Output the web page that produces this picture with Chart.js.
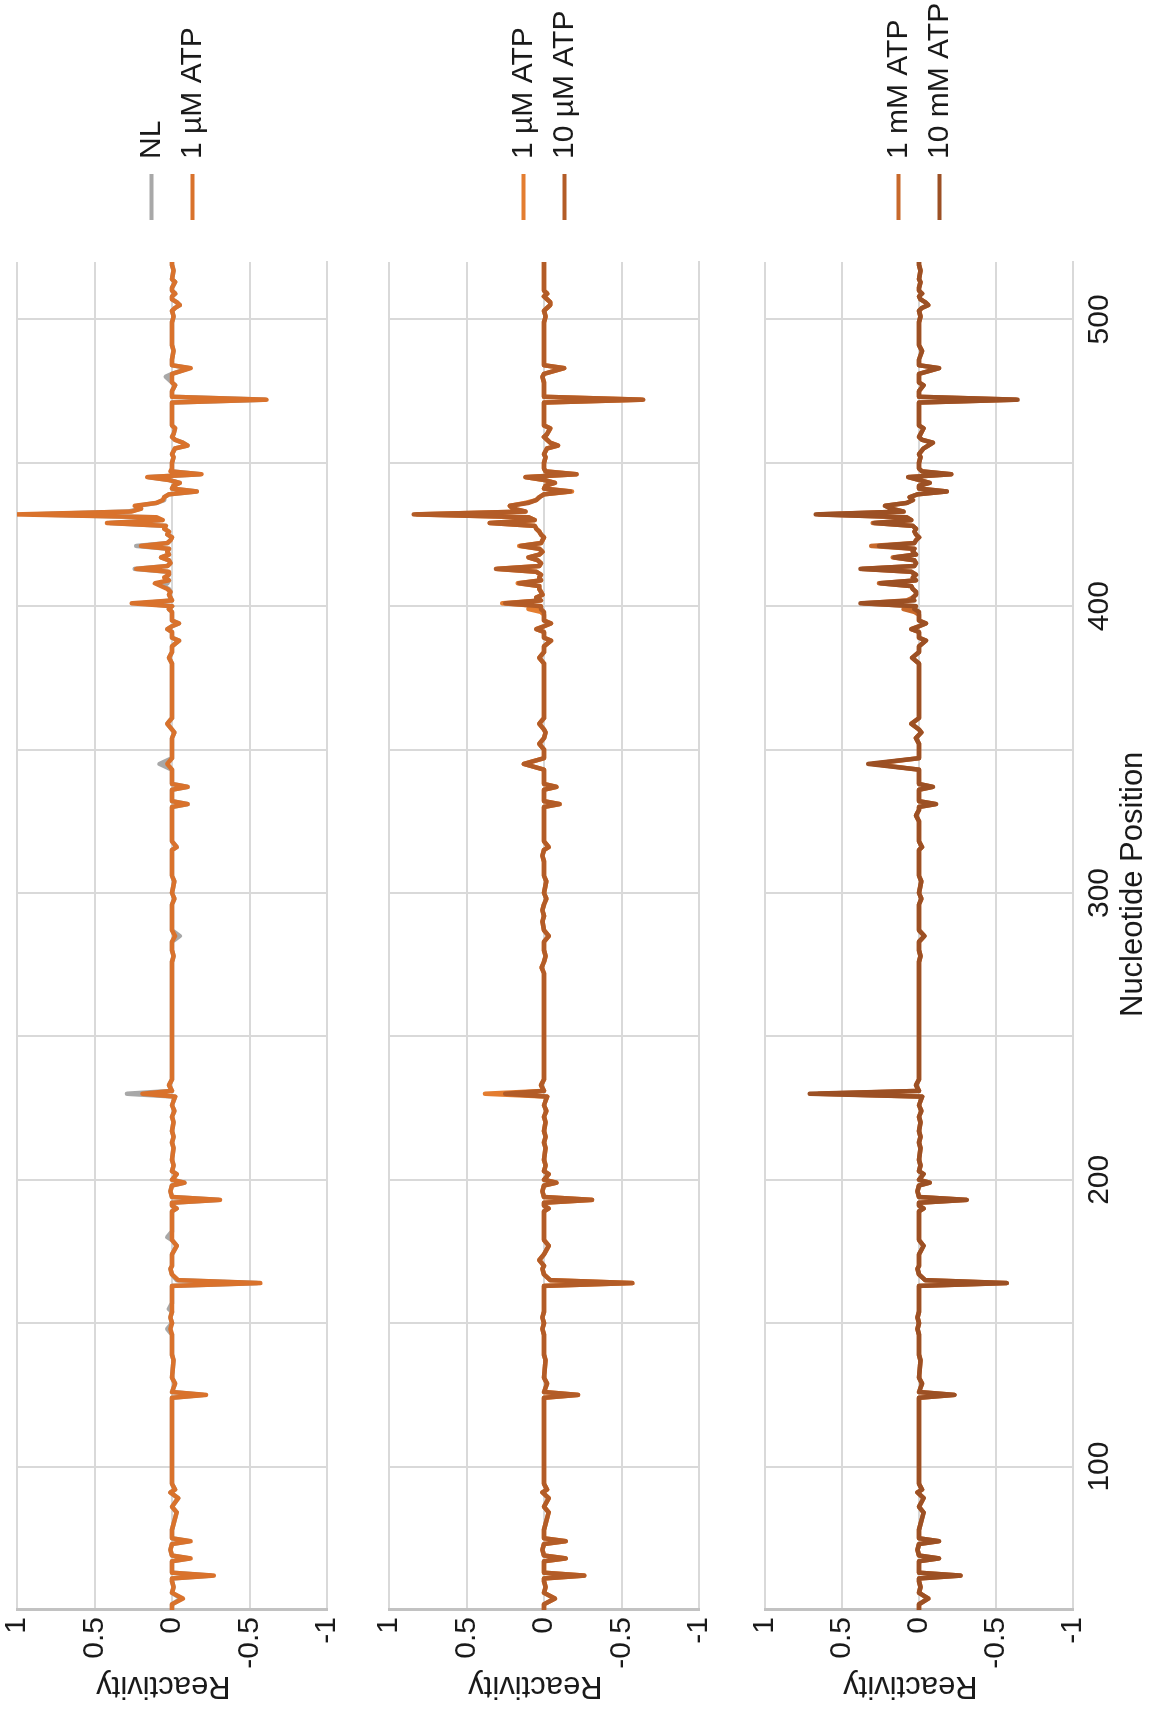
<!DOCTYPE html>
<html>
<head>
<meta charset="utf-8">
<title>Reactivity profiles</title>
<script src="https://cdn.jsdelivr.net/npm/chart.js@4.4.1/dist/chart.umd.min.js"></script>
<style>
  html, body { margin: 0; padding: 0; background: #fff; overflow: hidden; }
  /* the figure is laid out landscape, then turned a quarter to the left */
  #stage {
    position: absolute; left: 0; top: 0;
    width: 1711px; height: 1153px;
    transform-origin: 0 0;
    transform: translateY(1711px) rotate(-90deg);
  }
  #stage canvas { position: absolute; left: 0; }
</style>
</head>
<body>
<div id="stage">
  <canvas id="panel1" width="1711" height="358" style="top:0px"></canvas>
  <canvas id="panel2" width="1711" height="377" style="top:358px"></canvas>
  <canvas id="panel3" width="1711" height="418" style="top:735px"></canvas>
</div>
<script>
// nucleotide positions (shared by every trace)
const positions = [
  50, 52, 54, 56, 58, 60, 61, 62, 63, 66,
  67, 68, 69, 71, 73, 74, 75, 78, 84, 86,
  89, 91, 92, 94, 120, 122, 124, 125, 126, 129,
  131, 137, 139, 146, 148, 150, 152, 154, 155, 157,
  163, 164, 165, 167, 169, 170, 172, 174, 177, 179,
  180, 182, 189, 190, 191, 192, 193, 194, 196, 198,
  199, 200, 202, 203, 205, 207, 211, 213, 215, 217,
  220, 222, 224, 226, 229, 230, 231, 233, 235, 240,
  272, 274, 276, 278, 280, 283, 285, 287, 290, 292,
  294, 296, 298, 300, 304, 306, 311, 313, 315, 316,
  318, 325, 327, 329, 330, 331, 332, 336, 337, 338,
  343, 345, 347, 350, 352, 354, 356, 357, 359, 361,
  380, 382, 384, 386, 388, 389, 391, 392, 393, 394,
  395, 397, 398, 399, 400, 401, 402, 403, 404, 405,
  406, 407, 408, 409, 410, 411, 412, 413, 414, 415,
  416, 417, 418, 419, 420, 421, 422, 423, 424, 425,
  426, 427, 428, 429, 430, 431, 432, 433, 434, 435,
  436, 437, 438, 439, 440, 441, 442, 443, 444, 445,
  446, 447, 448, 449, 450, 452, 453, 455, 456, 457,
  458, 459, 460, 462, 463, 465, 471, 472, 473, 475,
  477, 478, 480, 481, 483, 484, 486, 489, 491, 499,
  501, 503, 504, 505, 506, 507, 508, 509, 510, 511,
  513, 514, 517, 519, 520
];

const reactNL = [
  0, 0, -0.06, 0, -0.01, 0, 0, -0.25, 0, 0,
  0, -0.11, 0, 0.01, 0, -0.11, 0, 0, -0.03, 0,
  -0.04, 0.01, -0.02, 0, 0, 0, 0, -0.2, 0, -0.02,
  0, -0.01, 0, 0, 0.03, 0, 0.01, 0, 0.02, 0,
  0, -0.55, -0.03, 0, 0.01, 0, 0, 0, -0.03, 0,
  0.03, 0, 0, -0.03, 0, 0, -0.3, 0, 0.01, 0,
  -0.08, 0, -0.03, 0, -0.01, 0, -0.01, 0, -0.01, 0,
  -0.01, 0, -0.015, 0, -0.02, 0.29, 0, 0.02, 0, 0,
  0, 0, 0, -0.01, 0, 0, -0.05, 0, 0, 0,
  0, 0, -0.015, 0, -0.015, 0, 0, 0, 0, -0.03,
  0, 0, 0, 0, 0, -0.1, 0, 0, -0.1, 0,
  0, 0.08, 0, 0, 0, 0, -0.015, 0, 0.03, 0,
  0, 0.02, 0, 0, -0.045, 0, 0, 0.03, 0, -0.045,
  0, 0, 0, 0.02, 0, 0.2, 0, 0.01, 0.02, 0.01,
  0.02, 0.06, 0.03, 0.02, 0.04, 0.02, 0.03, 0.24, 0.03, 0.01,
  0.02, 0.07, 0.02, 0.03, 0.02, 0.23, 0.03, 0.01, 0, 0.03,
  0.02, 0.05, 0.04, 0.4, 0.08, 0.12, 0.9, 0.28, 0.2, 0.22,
  0.1, 0.05, 0.05, 0.02, -0.16, 0, -0.01, -0.05, 0.02, 0.15,
  -0.18, 0, 0, 0, 0, -0.01, 0, -0.02, -0.1, -0.07,
  -0.02, 0, -0.01, -0.02, 0, 0, 0, -0.6, 0, 0,
  -0.02, 0, 0.04, 0, -0.11, 0, 0, -0.01, 0, 0,
  -0.01, 0, -0.02, -0.05, -0.03, 0, 0, -0.02, 0, 0,
  -0.02, 0, -0.01, 0, 0
];

const react1uM = [
  0, 0, -0.07, 0, -0.01, 0, 0, -0.27, 0, 0,
  0, -0.12, 0, 0.01, 0, -0.12, 0, 0, -0.03, 0,
  -0.04, 0.01, -0.02, 0, 0, 0, 0, -0.22, 0, -0.02,
  0, -0.01, 0, 0, 0.01, 0, 0.01, 0, 0, 0,
  0, -0.57, -0.04, 0, 0.01, 0, 0, 0, -0.03, 0,
  0, 0, 0, -0.03, 0, 0, -0.31, 0, 0.01, 0,
  -0.08, 0, -0.03, 0, -0.01, 0, -0.01, 0, -0.01, 0,
  -0.01, 0, -0.015, 0, -0.02, 0.19, 0, 0.02, 0, 0,
  0, 0, 0, -0.01, 0, 0, -0.02, 0, 0, 0,
  0, 0, -0.015, 0, -0.015, 0, 0, 0, 0, -0.03,
  0, 0, 0, 0, 0, -0.1, 0, 0, -0.1, 0,
  0, 0.03, 0, 0, 0, 0, -0.015, 0, 0.03, 0,
  0, 0.02, 0, 0, -0.045, 0, 0, 0.03, 0, -0.045,
  0, 0, 0, 0.02, 0, 0.26, 0, 0.01, 0.02, 0.01,
  0.03, 0.07, 0.11, 0.02, 0.05, 0.02, 0.02, 0.23, 0.03, 0.01,
  0.02, 0.07, 0.02, 0.03, 0.02, 0.2, 0.03, 0.01, 0, 0.03,
  0.02, 0.05, 0.04, 0.42, 0.06, 0.1, 1.0, 0.26, 0.2, 0.24,
  0.1, 0.06, 0.05, 0.02, -0.16, 0, -0.01, -0.05, 0.02, 0.16,
  -0.19, 0.01, 0, 0, 0, -0.01, 0, -0.02, -0.1, -0.07,
  -0.02, 0, -0.01, -0.02, 0, 0, 0, -0.61, 0, 0,
  -0.02, 0, 0, 0, -0.12, 0, 0, -0.01, 0, 0,
  -0.01, 0, -0.02, -0.05, -0.03, 0, 0, -0.02, 0, 0,
  -0.02, 0, -0.01, 0, 0
];

// second run of 1 µM, paired with 10 µM
const react1uMb = [
  0, 0, -0.07, 0, -0.01, 0, 0, -0.26, 0, 0,
  0, -0.14, 0, 0.01, 0, -0.14, 0, 0, -0.03, 0,
  -0.03, 0.01, -0.02, 0, 0, 0, 0, -0.22, 0, -0.02,
  0, -0.01, 0, 0, 0.01, 0, 0.01, 0, 0, 0,
  0, -0.57, -0.04, 0, 0.01, 0, 0.03, 0, -0.03, 0,
  0, 0, 0, -0.03, 0, 0, -0.31, 0, 0.01, 0,
  -0.08, 0, -0.03, 0, -0.01, 0, -0.01, 0, -0.01, 0,
  -0.01, 0, -0.015, 0, -0.02, 0.38, 0, 0.02, 0, 0,
  0, 0.015, 0, -0.01, 0, 0, -0.03, 0, 0.01, 0,
  0.01, 0, -0.015, 0, -0.015, 0, 0, 0.01, 0, -0.03,
  0, 0, 0, 0, 0, -0.1, 0, 0, -0.08, 0,
  0, 0.13, 0, 0, 0.03, 0, -0.01, 0, 0.03, 0,
  0, 0.03, 0, 0, -0.045, 0, 0, 0.05, 0, -0.045,
  0, 0, 0.02, 0.1, 0.02, 0.27, 0.02, 0.05, 0.01, 0.02,
  0.03, 0.03, 0.17, 0.02, 0.03, 0.02, 0.05, 0.3, 0.03, 0.02,
  0.04, 0.1, 0.03, 0.01, 0.03, 0.16, 0.02, 0.01, 0, 0.02,
  0.03, 0.05, 0.06, 0.35, 0.06, 0.1, 0.82, 0.12, 0.2, 0.22,
  0.12, 0.05, 0.03, 0, -0.18, 0, -0.01, -0.07, 0, 0.12,
  -0.21, -0.01, 0, 0, 0, -0.01, 0, -0.02, -0.09, -0.04,
  -0.02, 0, -0.02, -0.04, 0, 0, 0, -0.63, 0, 0,
  0, 0, 0.01, 0, -0.13, 0, 0, 0, 0, 0,
  -0.01, 0, -0.02, -0.04, -0.04, -0.02, 0, -0.02, 0, 0,
  0, 0, 0, 0, 0
];

const react10uM = [
  0, 0, -0.07, 0, -0.01, 0, 0, -0.26, 0, 0,
  0, -0.14, 0, 0.01, 0, -0.14, 0, 0, -0.03, 0,
  -0.03, 0.01, -0.02, 0, 0, 0, 0, -0.22, 0, -0.02,
  0, -0.01, 0, 0, 0.01, 0, 0.01, 0, 0, 0,
  0, -0.57, -0.04, 0, 0.01, 0, 0.03, 0, -0.03, 0,
  0, 0, 0, -0.03, 0, 0, -0.31, 0, 0.01, 0,
  -0.08, 0, -0.03, 0, -0.01, 0, -0.01, 0, -0.01, 0,
  -0.01, 0, -0.015, 0, -0.02, 0.25, 0, 0.02, 0, 0,
  0, 0.015, 0, -0.01, 0, 0, -0.03, 0, 0.01, 0,
  0.01, 0, -0.015, 0, -0.015, 0, 0, 0.01, 0, -0.03,
  0, 0, 0, 0, 0, -0.1, 0, 0, -0.08, 0,
  0, 0.13, 0, 0, 0.03, 0, -0.01, 0, 0.03, 0,
  0, 0.03, 0, 0, -0.045, 0, 0, 0.05, 0, -0.045,
  0, 0, 0, 0.02, 0.02, 0.25, 0.02, 0.05, 0.01, 0.02,
  0.03, 0.03, 0.16, 0.02, 0.03, 0.02, 0.05, 0.31, 0.03, 0.02,
  0.04, 0.1, 0.03, 0.01, 0.03, 0.15, 0.02, 0.01, 0, 0.02,
  0.03, 0.05, 0.06, 0.35, 0.06, 0.1, 0.84, 0.12, 0.2, 0.22,
  0.1, 0.05, 0.03, 0, -0.17, 0, -0.01, -0.07, 0, 0.12,
  -0.21, -0.01, 0, 0, 0, -0.01, 0, -0.02, -0.09, -0.04,
  -0.02, 0, -0.02, -0.04, 0, 0, 0, -0.64, 0, 0,
  0, 0, 0.01, 0, -0.13, 0, 0, 0, 0, 0,
  -0.01, 0, -0.02, -0.04, -0.04, -0.02, 0, -0.02, 0, 0,
  0, 0, 0, 0, 0
];

const react1mM = [
  0, 0, -0.06, 0, -0.01, 0, 0, -0.27, 0, 0,
  0, -0.13, 0, 0.01, 0, -0.13, 0, 0, -0.03, 0,
  -0.03, 0.01, -0.02, 0, 0, 0, 0, -0.23, 0, -0.02,
  0, -0.01, 0, 0, 0.01, 0, 0.01, 0, 0, 0,
  0, -0.57, -0.04, 0, 0.01, 0, 0, 0, -0.03, 0,
  0, 0, 0, -0.03, 0, 0, -0.31, 0, 0.01, 0,
  -0.07, 0, -0.03, 0, -0.01, 0, -0.01, 0, -0.01, 0,
  -0.01, 0, -0.015, 0, -0.02, 0.65, 0, 0.02, 0, 0,
  0, 0, 0, -0.01, 0, 0, -0.035, 0, 0, 0,
  0, 0, -0.015, 0, -0.015, 0, 0, 0, 0, -0.02,
  0, 0, 0.02, 0, 0, -0.11, 0, 0, -0.09, 0,
  0, 0.3, 0, 0, 0, 0.02, -0.015, 0, 0.05, 0,
  0, 0.045, 0, 0, -0.045, 0, 0, 0.05, 0, -0.045,
  0, 0, 0.03, 0.1, 0.03, 0.36, 0.08, 0.04, 0.02, 0.02,
  0.04, 0.05, 0.26, 0.02, 0.04, 0.02, 0.05, 0.37, 0.03, 0.02,
  0.03, 0.17, 0.02, 0.04, 0.03, 0.31, 0.03, 0.02, 0, 0.02,
  0.03, 0.02, 0.04, 0.3, 0.05, 0.08, 0.65, 0.1, 0.18, 0.22,
  0.08, 0.04, 0.06, 0.01, -0.18, 0, 0, -0.07, 0, 0.07,
  -0.21, -0.02, 0, 0, 0, -0.01, 0, -0.03, -0.06, -0.09,
  -0.02, 0, -0.01, -0.03, 0, 0, 0, -0.63, 0, 0,
  -0.03, 0, 0, 0, -0.13, 0, 0, -0.02, 0, 0,
  -0.01, 0, -0.02, -0.06, -0.04, -0.01, 0, -0.02, 0, 0,
  -0.01, 0, -0.01, 0, 0
];

const react10mM = [
  0, 0, -0.06, 0, -0.01, 0, 0, -0.27, 0, 0,
  0, -0.13, 0, 0.01, 0, -0.13, 0, 0, -0.03, 0,
  -0.03, 0.01, -0.02, 0, 0, 0, 0, -0.23, 0, -0.02,
  0, -0.01, 0, 0, 0.01, 0, 0.01, 0, 0, 0,
  0, -0.57, -0.04, 0, 0.01, 0, 0, 0, -0.03, 0,
  0, 0, 0, -0.03, 0, 0, -0.31, 0, 0.01, 0,
  -0.07, 0, -0.03, 0, -0.01, 0, -0.01, 0, -0.01, 0,
  -0.01, 0, -0.015, 0, -0.02, 0.71, 0, 0.02, 0, 0,
  0, 0, 0, -0.01, 0, 0, -0.035, 0, 0, 0,
  0, 0, -0.015, 0, -0.015, 0, 0, 0, 0, -0.02,
  0, 0, 0.02, 0, 0, -0.11, 0, 0, -0.09, 0,
  0, 0.33, 0, 0, 0, 0.02, -0.015, 0, 0.05, 0,
  0, 0.045, 0, 0, -0.045, 0, 0, 0.05, 0, -0.045,
  0, 0, 0, 0.03, 0.02, 0.38, 0.03, 0.04, 0.02, 0.02,
  0.04, 0.05, 0.25, 0.02, 0.04, 0.02, 0.05, 0.38, 0.03, 0.02,
  0.03, 0.16, 0.02, 0.04, 0.03, 0.26, 0.03, 0.02, 0, 0.02,
  0.03, 0.02, 0.04, 0.29, 0.05, 0.08, 0.67, 0.1, 0.18, 0.22,
  0.08, 0.04, 0.06, 0.01, -0.18, 0, 0, -0.07, 0, 0.07,
  -0.21, -0.02, 0, 0, 0, -0.01, 0, -0.03, -0.06, -0.09,
  -0.02, 0, -0.01, -0.03, 0, 0, 0, -0.64, 0, 0,
  -0.03, 0, 0, 0, -0.13, 0, 0, -0.02, 0, 0,
  -0.01, 0, -0.02, -0.06, -0.04, -0.01, 0, -0.02, 0, 0,
  -0.01, 0, -0.01, 0, 0
];

const positionLabels = [100, 200, 300, 400, 500];

const FONT = "'Liberation Sans', Arial, Helvetica, sans-serif";
const GRID = '#d9d9d9';
const LEGEND_WIDTH = 262;   // room right of the plot
const LEGEND_SHIFT = 31;    // blank gap before the legend lines

Chart.defaults.font.family = FONT;
Chart.defaults.color = '#1a1a1a';

// keep every panel's plot the same width whatever the legend text
const legendPlacement = {
  id: 'legendPlacement',
  beforeInit(chart) {
    const legend = chart.legend;
    const fit = legend.fit;
    legend.fit = function () {
      fit.call(this);
      this.width = LEGEND_WIDTH;
    };
  },
  afterLayout(chart) {
    chart.legend.left += LEGEND_SHIFT;
    chart.legend.right += LEGEND_SHIFT;
  }
};

function makePanel(canvasId, traces, padTop, padBottom, showX) {
  const datasets = traces.map((t, i) => ({
    label: t.label,
    data: positions.map((p, k) => ({ x: p, y: t.values[k] })),
    borderColor: t.color,
    backgroundColor: t.color,
    borderWidth: 4.5,
    borderJoinStyle: 'round',
    pointRadius: 0,
    tension: 0,
    order: traces.length - i
  }));

  return new Chart(document.getElementById(canvasId), {
    type: 'line',
    data: { datasets: datasets },
    plugins: [legendPlacement],
    options: {
      responsive: false,
      animation: false,
      events: [],
      layout: { padding: { top: padTop, bottom: padBottom, left: 0, right: 0 } },
      scales: {
        x: {
          type: 'linear',
          min: 50,
          max: 520,
          grid: { color: GRID, lineWidth: 2, drawTicks: false },
          border: { color: GRID, width: 2 },
          ticks: {
            display: showX,
            stepSize: 50,
            includeBounds: false,
            padding: 9,
            font: { size: 30 },
            maxRotation: 0,
            autoSkip: false,
            callback: (v) => (positionLabels.includes(v) ? String(v) : '')
          },
          title: {
            display: showX,
            // the original title sits a little right of the plot centre
            text: '            Nucleotide Position',
            font: { size: 31 },
            padding: { top: 0, bottom: 1 }
          },
          afterFit(scale) {
            scale.height = showX ? 80 : 0;
            scale.paddingLeft = 0;
            scale.paddingRight = 0;
          }
        },
        y: {
          min: -1,
          max: 1,
          grid: { color: GRID, lineWidth: 2, drawTicks: false },
          border: { color: '#c2c2c2', width: 3 },
          ticks: {
            stepSize: 0.5,
            padding: 7,
            font: { size: 30 },
            callback: (v) => String(v)
          },
          title: {
            display: true,
            text: '  Reactivity',
            font: { size: 31 },
            padding: { top: 7, bottom: 0 }
          },
          afterFit(scale) {
            scale.width = 101;
            scale.paddingTop = 0;
            scale.paddingBottom = 0;
          }
        }
      },
      plugins: {
        tooltip: { enabled: false },
        legend: {
          position: 'right',
          fullSize: false,
          labels: {
            boxWidth: 46,
            boxHeight: 4,
            padding: 11,
            font: { size: 30 },
            color: '#1a1a1a',
            sort: (a, b) => a.datasetIndex - b.datasetIndex,
            generateLabels(chart) {
              return Chart.defaults.plugins.legend.labels
                .generateLabels(chart)
                .map((item) => Object.assign(item, { lineWidth: 0 }));
            }
          }
        }
      }
    }
  });
}

makePanel('panel1', [
  { label: 'NL', values: reactNL, color: '#a8a8a8' },
  { label: '1 µM ATP', values: react1uM, color: '#d9722c' }
], 17, 31, false);

makePanel('panel2', [
  { label: '1 µM ATP', values: react1uMb, color: '#e47d30' },
  { label: '10 µM ATP', values: react10uM, color: '#b35c27' }
], 31, 36, false);

makePanel('panel3', [
  { label: '1 mM ATP', values: react1mM, color: '#c8692b' },
  { label: '10 mM ATP', values: react10mM, color: '#9c5024' }
], 30, 0, true);
</script>
</body>
</html>
